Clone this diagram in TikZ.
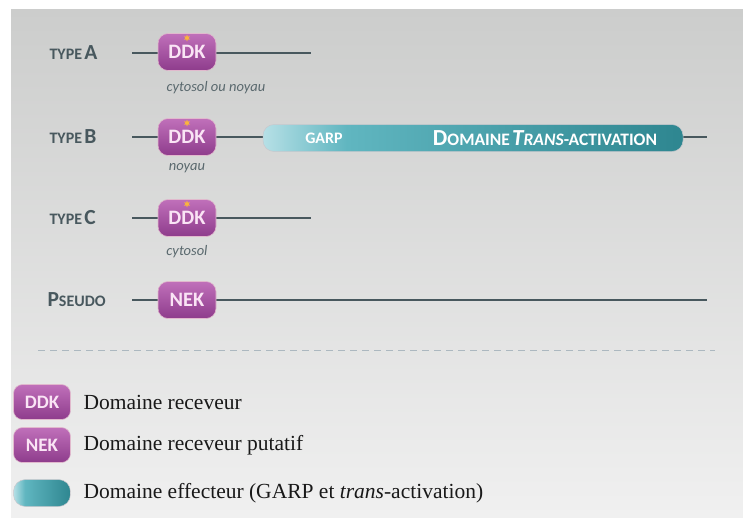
\documentclass[tikz,border=0pt]{standalone}
\usepackage{fontspec}
\setmainfont{Liberation Serif}
\newfontfamily\calib{Carlito}
\usetikzlibrary{shapes.geometric}
\definecolor{slate}{RGB}{72,88,94}
\definecolor{ddkpink}{RGB}{250,228,245}
\definecolor{purtop}{RGB}{192,112,186}
\definecolor{purbot}{RGB}{142,60,140}
\definecolor{purrim}{RGB}{225,185,205}
\definecolor{tealL}{RGB}{182,224,230}
\definecolor{tealM}{RGB}{96,182,192}
\definecolor{tealR}{RGB}{46,134,144}
\definecolor{tealrim}{RGB}{200,200,205}
\definecolor{bgtop}{RGB}{204,205,204}
\definecolor{bgbot}{RGB}{240,240,240}
\definecolor{dashc}{RGB}{172,184,192}
\definecolor{starc}{RGB}{250,180,60}
\pgfdeclarehorizontalshading{tealbar}{100bp}{color(0bp)=(tealL); color(25bp)=(tealL); color(35bp)=(tealM); color(75bp)=(tealR); color(100bp)=(tealR)}
\newcommand\smcapx[1]{{\fontsize{16}{17}\selectfont #1}}
\newcommand\bigcapx[1]{{\fontsize{21.5}{22}\selectfont #1}}
\newcommand\smbarx[1]{{\fontsize{17.5}{18}\selectfont #1}}
\newcommand\bigbarx[1]{{\fontsize{23}{24}\selectfont #1}}
\begin{document}
\begin{tikzpicture}[x=1pt,y=-1pt,
  recv/.style={rounded corners=10pt, minimum width=58pt, minimum height=37pt, inner sep=0pt,
    top color=purtop, bottom color=purbot, draw=purrim, line width=0.6pt,
    text=ddkpink, font=\calib\bfseries\fontsize{20.5}{21}\selectfont},
  leg/.style={recv, minimum width=57pt, minimum height=35pt, rounded corners=9pt,
    font=\calib\bfseries\fontsize{19}{20}\selectfont},
  effr/.style={rounded corners=11pt, inner sep=0pt, shading=tealbar, draw=tealrim, line width=0.5pt},
  chain/.style={draw=slate, line width=2pt},
  rowlab/.style={anchor=west, text=slate, font=\calib\bfseries},
  place/.style={text=slate!90, font=\calib\itshape\fontsize{14.5}{15}\selectfont},
  pstar/.style={star, star points=6, star point ratio=2.2, fill=starc, inner sep=0pt, minimum size=7pt},
  legtxt/.style={anchor=west, font=\fontsize{21.5}{22}\selectfont, text=black!90}]
\useasboundingbox (0,0) rectangle (743,517);
\fill[white] (0,0) rectangle (743,517);
\shade[top color=bgtop, bottom color=bgbot] (11,9) rectangle (743,517);
\node[rowlab] (labA) at (46,53) {\smcapx{TYPE} \bigcapx{A}};
\node[rowlab] (labB) at (46,137) {\smcapx{TYPE} \bigcapx{B}};
\node[rowlab] (labC) at (46,218) {\smcapx{TYPE} \bigcapx{C}};
\node[rowlab] (labP) at (44,300) {\bigcapx{P}\smcapx{SEUDO}};
\coordinate (aL) at (132,53);
\coordinate (aR) at (311,53);
\coordinate (bL) at (132,137);
\coordinate (bR) at (707,137);
\coordinate (cL) at (132,218);
\coordinate (cR) at (311,218);
\coordinate (pL) at (132,300);
\coordinate (pR) at (707,300);
\draw[chain](aL) -- (aR);
\draw[chain](bL) -- (bR);
\draw[chain](cL) -- (cR);
\draw[chain](pL) -- (pR);
\node[effr, minimum width=420pt, minimum height=27pt] (garp) at (473,138) {};
\node[text=white, font=\calib\bfseries\fontsize{16}{17}\selectfont] (garpt) at (324,138) {GARP};
\node[text=white, font=\calib\bfseries] (tact) at (545,138) {\bigbarx{D}\smbarx{OMAINE} \textit{\bigbarx{T}\smbarx{RANS}}\smbarx{-ACTIVATION}};
\node[recv] (ddkA) at (187,52) {DDK};
\node[recv] (ddkB) at (187,137) {DDK};
\node[recv] (ddkC) at (187,218) {DDK};
\node[recv] (nekP) at (187,300) {NEK};
\node[pstar] (stA) at (187,38) {};
\node[pstar] (stB) at (187,123) {};
\node[pstar] (stC) at (187,204) {};
\node[place] (locA) at (216,88) {cytosol ou noyau};
\node[place] (locB) at (187,168) {noyau};
\node[place] (locC) at (187,252) {cytosol};
\coordinate (dashL) at (38,350);
\coordinate (dashR) at (715,350);
\draw[dashc, line width=1pt, dash pattern=on 7pt off 5pt] (dashL) -- (dashR);
\node[leg] (legD) at (42,402) {DDK};
\node[leg] (legN) at (42,445) {NEK};
\node[effr, minimum width=57pt, minimum height=27pt, rounded corners=12pt] (legE) at (42,493) {};
\node[legtxt] (txtD) at (80,402) {Domaine receveur};
\node[legtxt] (txtN) at (80,445) {Domaine receveur putatif};
\node[legtxt] (txtE) at (80,493) {Domaine effecteur (GARP et \textit{trans}-activation)};
\end{tikzpicture}
\end{document}
